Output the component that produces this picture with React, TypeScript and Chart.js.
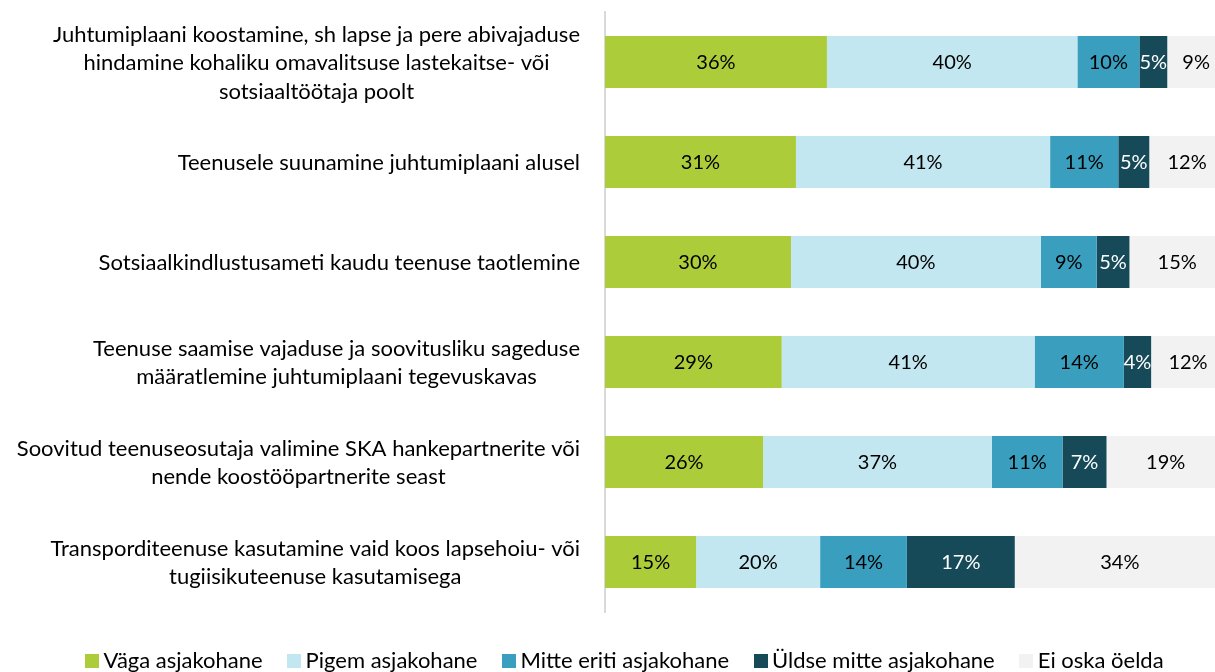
import React, { useEffect, useRef } from 'react';
import { Chart, registerables } from 'chart.js';

Chart.register(...registerables);

const categories: string[][] = [
  ['Juhtumiplaani koostamine, sh lapse ja pere abivajaduse', 'hindamine kohaliku omavalitsuse lastekaitse- või', 'sotsiaaltöötaja poolt'],
  ['Teenusele suunamine juhtumiplaani alusel'],
  ['Sotsiaalkindlustusameti kaudu teenuse taotlemine'],
  ['Teenuse saamise vajaduse ja soovitusliku sageduse', 'määratlemine juhtumiplaani tegevuskavas'],
  ['Soovitud teenuseosutaja valimine SKA hankepartnerite või', 'nende koostööpartnerite seast'],
  ['Transporditeenuse kasutamine vaid koos lapsehoiu- või', 'tugiisikuteenuse kasutamisega'],
];

const seriesNames = ['Väga asjakohane', 'Pigem asjakohane', 'Mitte eriti asjakohane', 'Üldse mitte asjakohane', 'Ei oska öelda'];
const vagaAsjakohane = [35.8, 30.8, 30.0, 28.5, 25.5, 14.7];
const pigemAsjakohane = [40.4, 41.0, 40.3, 40.8, 36.9, 20.0];
const mitteEritiAsjakohane = [10.0, 11.0, 9.0, 14.4, 11.4, 14.0];
const uldseMitteAsjakohane = [4.5, 5.0, 5.3, 4.4, 7.1, 17.4];
const eiOskaOelda = [9.3, 12.2, 15.4, 11.9, 19.1, 33.9];

const seriesColors = ['#ADCC3A', '#C2E7F0', '#3A9FBE', '#174A58', '#F2F2F2'];
const labelColors = ['#000000', '#000000', '#000000', '#FFFFFF', '#000000'];

const FONT = 'Lato, "Noto Sans", sans-serif';
const CAT_FONT_SIZE = 22;
const VALUE_FONT_SIZE = 20;
const LEGEND_FONT_SIZE = 22;

const yLabelPlugin = {
  id: 'yLabels',
  afterDraw(chart: any) {
    const ctx = chart.ctx;
    const yScale = chart.scales.y;
    ctx.save();
    ctx.font = `${CAT_FONT_SIZE}px ${FONT}`;
    ctx.fillStyle = '#000000';
    ctx.textAlign = 'center';
    ctx.textBaseline = 'middle';
    const lineH = 28.5;
    const rightEdge = 580;
    categories.forEach((lines, i) => {
      const yc = yScale.getPixelForValue(i) + 1;
      const w = Math.max(...lines.map((l) => ctx.measureText(l).width));
      const cx = rightEdge - w / 2;
      const y0 = yc - ((lines.length - 1) * lineH) / 2;
      lines.forEach((l, j) => ctx.fillText(l, cx, y0 + j * lineH));
    });
    ctx.restore();
  },
};

const dataLabelPlugin = {
  id: 'barValueLabels',
  afterDatasetsDraw(chart: any) {
    const ctx = chart.ctx;
    ctx.save();
    ctx.font = `${VALUE_FONT_SIZE}px ${FONT}`;
    ctx.textAlign = 'center';
    ctx.textBaseline = 'middle';
    chart.data.datasets.forEach((ds: any, di: number) => {
      const meta = chart.getDatasetMeta(di);
      meta.data.forEach((bar: any, i: number) => {
        const v = ds.data[i];
        const x = (bar.x + bar.base) / 2;
        ctx.fillStyle = labelColors[di];
        ctx.fillText(`${Math.round(v)}%`, x, bar.y + 1);
      });
    });
    ctx.restore();
  },
};

const legendFitPlugin = {
  id: 'legendFit',
  beforeLayout(chart: any) {
    const legend = chart.legend;
    if (legend && !legend.__patched) {
      const orig = legend.fit;
      legend.fit = function () {
        orig.call(this);
        this.height = 60;
      };
      legend.__patched = true;
    }
  },
};

function makeSwatch(color: string): HTMLCanvasElement {
  const c = document.createElement('canvas');
  c.width = 14;
  c.height = 14;
  const g = c.getContext('2d');
  if (g) {
    g.fillStyle = color;
    g.fillRect(0, 0, 14, 14);
  }
  return c;
}

export default function App() {
  const canvasRef = useRef<HTMLCanvasElement | null>(null);

  useEffect(() => {
    document.body.style.margin = '0';
    const canvas = canvasRef.current;
    if (!canvas) return;
    const seriesData = [vagaAsjakohane, pigemAsjakohane, mitteEritiAsjakohane, uldseMitteAsjakohane, eiOskaOelda];
    const swatches = seriesColors.map(makeSwatch);
    const chart = new Chart(canvas, {
      type: 'bar',
      data: {
        labels: categories.map((c) => c.join(' ')),
        datasets: seriesNames.map((name, i) => ({
          label: name,
          data: seriesData[i],
          backgroundColor: seriesColors[i],
          borderWidth: 0,
          barPercentage: 0.52,
          categoryPercentage: 1,
        })),
      },
      options: {
        indexAxis: 'y',
        animation: false,
        responsive: false,
        maintainAspectRatio: false,
        layout: { padding: { top: 12, left: 40, right: 0, bottom: 0 } },
        scales: {
          x: {
            stacked: true,
            display: false,
            min: 0,
            max: 98.4,
          },
          y: {
            stacked: true,
            grid: { display: false },
            border: { display: true, color: '#D9D9D9', width: 2 },
            ticks: { display: false },
            afterFit: (scale: any) => {
              scale.width = 565;
            },
          },
        },
        plugins: {
          legend: {
            position: 'bottom',
            title: { display: true, text: '', font: { size: 7, lineHeight: 1 }, padding: 0 },
            labels: {
              usePointStyle: true,
              pointStyleWidth: 1,
              boxHeight: 14,
              padding: 31,
              color: '#000000',
              font: { family: FONT, size: LEGEND_FONT_SIZE },
              generateLabels: (ch: any) =>
                ch.data.datasets.map((ds: any, i: number) => ({
                  text: ds.label,
                  fillStyle: seriesColors[i],
                  strokeStyle: seriesColors[i],
                  lineWidth: 0,
                  pointStyle: swatches[i],
                  hidden: false,
                  datasetIndex: i,
                  fontColor: '#000000',
                })),
            },
          },
          tooltip: { enabled: false },
        },
      },
      plugins: [yLabelPlugin, dataLabelPlugin, legendFitPlugin],
    });
    return () => chart.destroy();
  }, []);

  return (
    <div style={{ width: 1215, height: 672 }}>
      <canvas ref={canvasRef} width={1215} height={672} style={{ display: 'block' }} />
    </div>
  );
}
